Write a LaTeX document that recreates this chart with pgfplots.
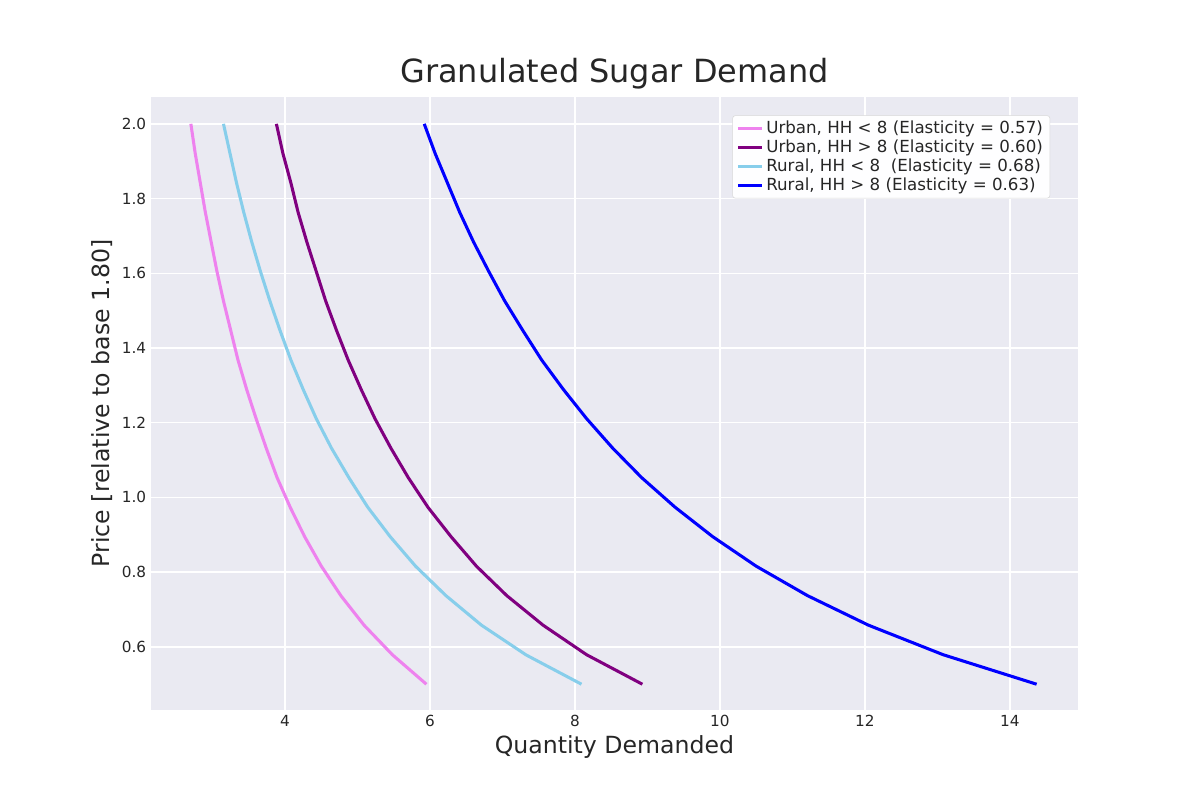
\documentclass[border=0pt]{standalone}
\usepackage{fontspec}
\setmainfont{DejaVu Sans}
\usepackage{pgfplots}
\pgfplotsset{compat=1.18}
\definecolor{bg}{HTML}{EAEAF2}
\definecolor{cviolet}{HTML}{EE82EE}
\definecolor{cpurple}{HTML}{800080}
\definecolor{csky}{HTML}{87CEEB}
\definecolor{cblue}{HTML}{0000FF}
\begin{document}
\begin{tikzpicture}
\path (0pt,0pt) rectangle (864pt,576pt);
\begin{axis}[at={(108.72pt,64.8pt)},anchor=south west,
 scale only axis, width=667.4pt, height=441.4pt,
 xmin=2.15, xmax=14.94, ymin=0.431, ymax=2.072,
 axis background/.style={fill=bg}, axis line style={draw=none},
 grid=major, major grid style={white, line width=1pt},
 tick style={draw=none},
 xtick={4,6,...,14}, ytick={0.6,0.8,...,2.0},
 yticklabel style={/pgf/number format/.cd,fixed,fixed zerofill,precision=1},
 /pgf/number format/assume math mode=true,
 ticklabel style={font=\fontsize{11}{13}\selectfont, text=black!85},
 xlabel={Quantity Demanded}, ylabel={Price [relative to base 1.80]},
 label style={font=\fontsize{17}{20}\selectfont, text=black!85},
 title={Granulated Sugar Demand},
 title style={font=\fontsize{23}{27}\selectfont, text=black!85, yshift=-4pt},
 legend pos=north east,
 legend style={font=\fontsize{12}{14}\selectfont, text=black!85, fill=white!97!bg, draw=black!15, rounded corners=2pt, row sep=-1pt},
 legend cell align=left,
 every axis plot/.append style={line width=2.2pt},
]
\addplot[cviolet] coordinates {(5.95,0.5)(5.48,0.579)(5.09,0.658)(4.77,0.737)(4.50,0.816)(4.27,0.895)(4.07,0.974)(3.89,1.053)(3.74,1.132)(3.60,1.211)(3.47,1.289)(3.35,1.368)(3.25,1.447)(3.15,1.526)(3.06,1.605)(2.98,1.684)(2.90,1.763)(2.83,1.842)(2.76,1.921)(2.70,2.0)};
\addlegendentry{Urban, HH < 8 (Elasticity = 0.57)}
\addplot[cpurple] coordinates {(8.93,0.5)(8.16,0.579)(7.56,0.658)(7.06,0.737)(6.64,0.816)(6.29,0.895)(5.97,0.974)(5.70,1.053)(5.46,1.132)(5.24,1.211)(5.05,1.289)(4.87,1.368)(4.71,1.447)(4.56,1.526)(4.43,1.605)(4.30,1.684)(4.18,1.763)(4.08,1.842)(3.97,1.921)(3.88,2.0)};
\addlegendentry{Urban, HH > 8 (Elasticity = 0.60)}
\addplot[csky] coordinates {(8.09,0.5)(7.32,0.579)(6.71,0.658)(6.22,0.737)(5.80,0.816)(5.45,0.895)(5.14,0.974)(4.88,1.053)(4.64,1.132)(4.43,1.211)(4.25,1.289)(4.08,1.368)(3.93,1.447)(3.79,1.526)(3.66,1.605)(3.54,1.684)(3.43,1.763)(3.33,1.842)(3.24,1.921)(3.15,2.0)};
\addlegendentry{Rural, HH < 8 \ (Elasticity = 0.68)}
\addplot[cblue] coordinates {(14.37,0.5)(13.08,0.579)(12.05,0.658)(11.21,0.737)(10.50,0.816)(9.90,0.895)(9.38,0.974)(8.92,1.053)(8.52,1.132)(8.16,1.211)(7.84,1.289)(7.54,1.368)(7.28,1.447)(7.03,1.526)(6.81,1.605)(6.60,1.684)(6.41,1.763)(6.24,1.842)(6.07,1.921)(5.92,2.0)};
\addlegendentry{Rural, HH > 8 (Elasticity = 0.63)}
\end{axis}
\end{tikzpicture}
\end{document}
